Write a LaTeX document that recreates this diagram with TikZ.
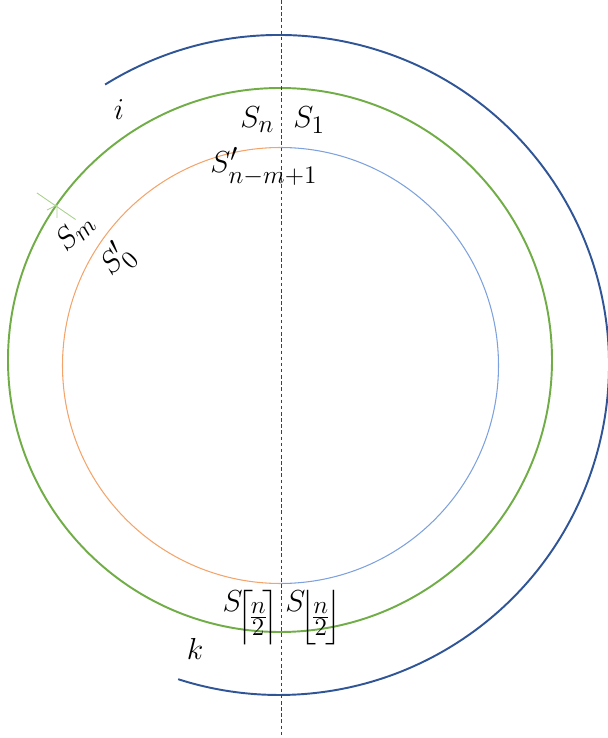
\documentclass[tikz,border=0pt]{standalone}
\usepackage{amsmath}
\DeclareMathSizes{18}{18}{14.5}{11}
\delimitershortfall=-2pt
\definecolor{darkblue}{HTML}{2F5597}
\definecolor{ringgreen}{HTML}{70AD47}
\definecolor{ringorange}{HTML}{F4A46A}
\definecolor{ringblue}{HTML}{7DA1DE}
\definecolor{tickgreen}{HTML}{A9D18E}
\begin{document}
\begin{tikzpicture}[x=0.02cm,y=0.02cm,
  lbl/.style={inner sep=0pt,font=\fontsize{18}{22}\selectfont},
  axisline/.style={draw=black!75,line width=0.5pt,dash pattern=on 2pt off 1.5pt},
  outerarc/.style={draw=darkblue,line width=1.1pt},
  greenring/.style={draw=ringgreen,line width=1.1pt},
  innerring/.style={line width=0.6pt}]
\useasboundingbox (0,0) rectangle (608,738);
% centres (y measured upward)
\coordinate (cg) at (280,378);
\coordinate (ci) at (280.5,372.5);
\coordinate (co) at (279,373);
% outer dark blue arc
\draw[outerarc] (co) ++(121.8:330) arc[start angle=121.8,end angle=-107.8,radius=330];
% green ring
\draw[greenring] (cg) circle[radius=272];
% inner ring: orange left, blue right
\draw[innerring,draw=ringorange] (ci) ++(90:218) arc[start angle=90,end angle=270,radius=218];
\draw[innerring,draw=ringblue] (ci) ++(-90:218) arc[start angle=-90,end angle=90,radius=218];
% tick mark on green ring
\path (cg) ++(145.5:295) coordinate (ta);
\path (cg) ++(145.5:248) coordinate (tb);
\coordinate (tc) at (47,528);
\coordinate (td) at (57,533);
\coordinate (te) at (57,520);
\draw[draw=tickgreen,line width=0.5pt] (ta) -- (tb);
\draw[draw=tickgreen,line width=0.5pt] (tc) -- (td) -- (te);
% vertical dashed axis
\coordinate (atop) at (281,738);
\coordinate (abot) at (281,0);
\draw[axisline] (atop) -- (abot);
% labels
\node[lbl,anchor=base west] (sn) at (240,610) {$S_n$};
\node[lbl,anchor=base west] (s1) at (293,610) {$S_1$};
\node[lbl,anchor=base west] (snm) at (210,565) {$S'_{n-m+1}$};
\node[lbl,rotate=45] (sm) at (75,506) {$S_m$};
\node[lbl,rotate=45] (s0) at (117,478) {$S'_0$};
\node[lbl,anchor=base] (li) at (119,618) {$i$};
\node[lbl,anchor=base] (lk) at (195,78) {$k$};
\node[lbl,anchor=base east] (sceil) at (279,126) {$S\mkern-3mu\raisebox{-7.5pt}{$\left\lceil\!\frac{n}{2}\!\right\rceil$}$};
\node[lbl,anchor=base west] (sfloor) at (285,126) {$S\mkern-3mu\raisebox{-7.5pt}{$\left\lfloor\!\frac{n}{2}\!\right\rfloor$}$};
\end{tikzpicture}
\end{document}
